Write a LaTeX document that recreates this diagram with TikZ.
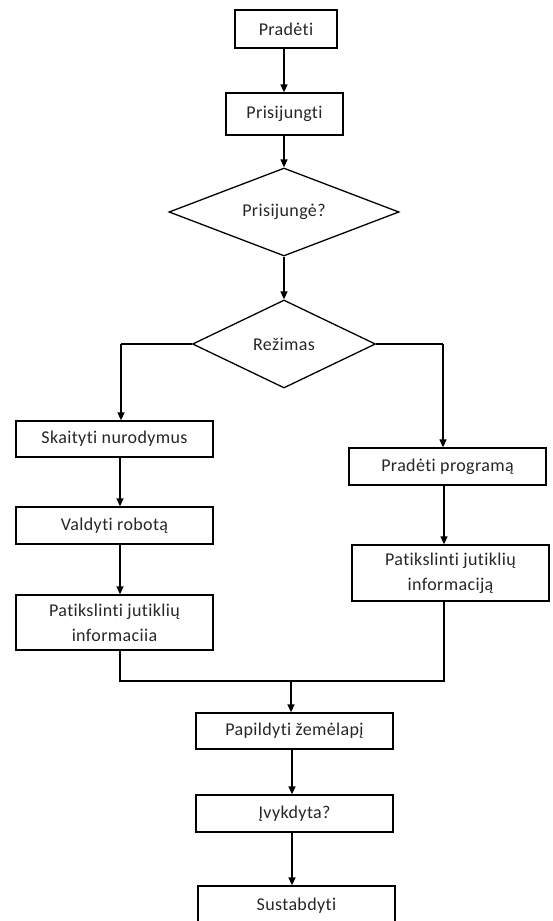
\documentclass[tikz,border=0pt]{standalone}
\usepackage{fontspec}
\setmainfont{Carlito}[Ligatures=NoCommon, LetterSpace=2]
\usetikzlibrary{arrows.meta,shapes.geometric}
\begin{document}
\begin{tikzpicture}[x=1pt,y=-1pt,
  every node/.style={font=\fontsize{18}{25}\selectfont, text=black!85},
  stepbox/.style={draw, line width=1.3pt, rectangle, inner sep=0pt, minimum width=197pt, align=center},
  choice/.style={draw, line width=1.3pt, diamond, inner sep=0pt, aspect=2.5},
  flow/.style={line width=1.3pt, -{Triangle[length=8pt,width=7pt]}},
  link/.style={line width=1.3pt}]
\useasboundingbox (0,0) rectangle (552,921);
\begin{scope}
\clip (0,0) rectangle (552,921);
% main column
\node[stepbox, minimum width=102pt, minimum height=38pt] (start) at (286,29) {Pradėti};
\node[stepbox, minimum width=117pt, minimum height=42pt] (connect) at (284.5,114) {Prisijungti};
\node[choice, minimum width=230pt, minimum height=88pt] (connected) at (284,212) {Prisijungė?};
\node[choice, minimum width=183pt, minimum height=88pt] (mode) at (284,344) {Režimas};
% manual branch
\node[stepbox, minimum height=36pt] (read) at (114.5,439) {Skaityti nurodymus};
\node[stepbox, minimum height=37pt] (drive) at (114.5,525.5) {Valdyti robotą};
\node[stepbox, minimum height=55pt] (refineL) at (114.5,622.5) {Patikslinti jutiklių\\informaciia};
% program branch
\node[stepbox, minimum height=37pt] (prog) at (447.5,466.5) {Pradėti programą};
\node[stepbox, minimum height=56pt] (refineR) at (450.5,573) {Patikslinti jutiklių\\informaciją};
% merged tail
\node[stepbox, minimum height=36pt] (map) at (294.5,731) {Papildyti žemėlapį};
\node[stepbox, minimum height=37pt] (done) at (294.5,813.5) {Įvykdyta?};
\node[stepbox, minimum height=40pt] (stop) at (296.5,906) {Sustabdyti};

% bends and joints
\coordinate (lturn) at (121,344);
\coordinate (rturn) at (443,344);
\coordinate (lfoot) at (120,681);
\coordinate (rfoot) at (444,681);
\coordinate (join) at (291,681);

\draw[flow] (284,0 |- start.south) -- (284,0 |- connect.north);
\draw[flow] (284,0 |- connect.south) -- (connected.north);
\draw[flow] (connected.south) -- (mode.north);
\draw[link] (mode.west) -- (lturn);
\draw[flow] (lturn) -- (lturn |- read.north);
\draw[link] (mode.east) -- (rturn);
\draw[flow] (rturn) -- (rturn |- prog.north);
\draw[flow] (120,0 |- read.south) -- (120,0 |- drive.north);
\draw[flow] (120,0 |- drive.south) -- (120,0 |- refineL.north);
\draw[flow] (444,0 |- prog.south) -- (444,0 |- refineR.north);
\draw[link] (lfoot |- refineL.south) -- (lfoot) -- (rfoot) -- (rfoot |- refineR.south);
\draw[flow] (join) -- (join |- map.north);
\draw[flow] (292,0 |- map.south) -- (292,0 |- done.north);
\draw[flow] (292,0 |- done.south) -- (292,0 |- stop.north);
\end{scope}
\end{tikzpicture}
\end{document}
